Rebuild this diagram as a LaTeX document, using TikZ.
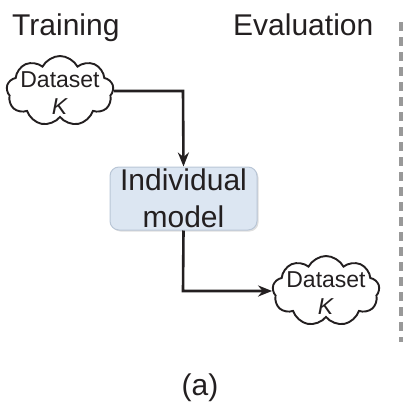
\documentclass[tikz,border=0pt]{standalone}
\usepackage{fontspec}
\setmainfont{Liberation Sans}
\usetikzlibrary{shapes.symbols,arrows.meta,shadows}
\definecolor{ink}{HTML}{231F20}
\definecolor{boxfill}{HTML}{DCE6F2}
\definecolor{boxedge}{HTML}{B9C6D6}
\definecolor{divider}{HTML}{999999}
\tikzset{
  heading/.style={font=\fontsize{30}{34}\selectfont, text=ink, anchor=base west, inner sep=0pt},
  dataset/.style={cloud, cloud puffs=9, cloud puff arc=125, aspect=1.55, draw=ink, line width=1.9pt,
    minimum width=107pt, minimum height=70pt, inner sep=0pt},
  datatext/.style={align=center, inner sep=0pt, font=\fontsize{23}{27}\selectfont, text=ink},
  modelbox/.style={draw=boxedge, fill=boxfill, rounded corners=9pt, line width=1pt,
    minimum width=147pt, minimum height=63pt, align=center,
    font=\fontsize{30}{37}\selectfont, text=ink, inner sep=0pt,
    drop shadow={shadow xshift=1.5pt, shadow yshift=-1.5pt, opacity=0.25, fill=gray}},
  flow/.style={draw=ink, line width=2.6pt, -{Stealth[length=14pt,width=11pt]}},
  divline/.style={draw=divider, line width=3.2pt, dash pattern=on 9pt off 6pt}
}
\begin{document}
\begin{tikzpicture}[x=1pt, y=-1pt]
  \useasboundingbox (0,0) rectangle (406,410);

  % column headings
  \node[heading] (train) at (12,35) {Training};
  \node[heading] (eval) at (233,35) {Evaluation};

  % training dataset
  \node[dataset] (dsA) at (60,91) {};
  \node[datatext] (dsAtext) at (60,93) {Dataset\\\textit{K}};

  % the model
  \node[modelbox] (model) at (183.5,198.5) {Individual\\model};

  % evaluation dataset
  \node[dataset] (dsB) at (326,291) {};
  \node[datatext] (dsBtext) at (326,293) {Dataset\\\textit{K}};

  % bend points of the connectors
  \coordinate (bendA) at (183,91);
  \coordinate (bendB) at (183,291);

  \draw[flow] (dsA.east) -- (bendA) -- (model.north);
  \draw[flow] (model.south) -- (bendB) -- (dsB.west);

  % separator between the columns
  \coordinate (divTop) at (401,22);
  \coordinate (divBot) at (401,342);
  \draw[divline] (divTop) -- (divBot);

  % panel label
  \node[font=\fontsize{30}{34}\selectfont, text=ink] (label) at (200,388) {(a)};
\end{tikzpicture}
\end{document}
